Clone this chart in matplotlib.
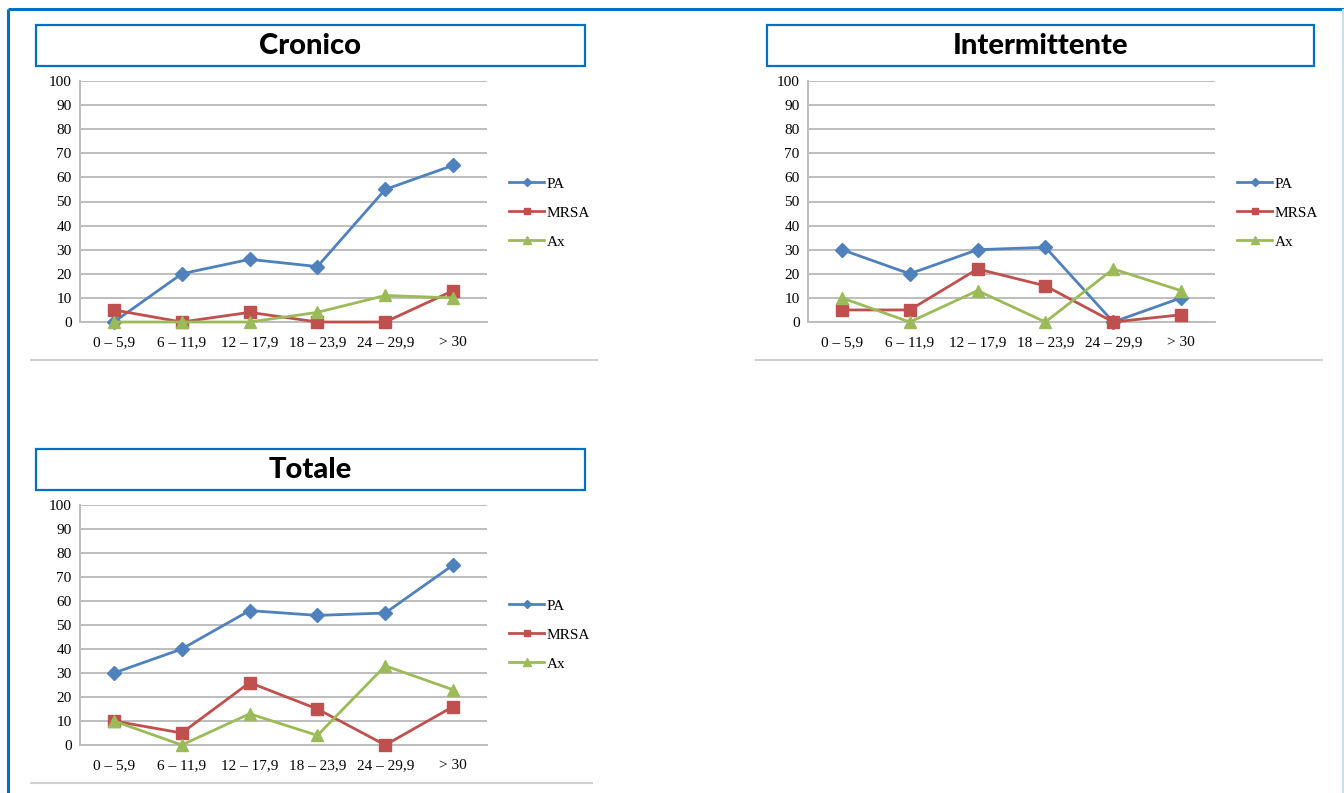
import matplotlib
matplotlib.use("Agg")
import matplotlib.pyplot as plt
from matplotlib.patches import Rectangle
from matplotlib.lines import Line2D

# Age classes (x axis) and percentage values for each group
categories = ["0 – 5,9", "6 – 11,9", "12 – 17,9", "18 – 23,9", "24 – 29,9", "> 30"]
series_names = ["PA", "MRSA", "Ax"]

cronico_pa = [0, 20, 26, 23, 55, 65]
cronico_mrsa = [5, 0, 4, 0, 0, 13]
cronico_ax = [0, 0, 0, 4, 11, 10]

intermittente_pa = [30, 20, 30, 31, 0, 10]
intermittente_mrsa = [5, 5, 22, 15, 0, 3]
intermittente_ax = [10, 0, 13, 0, 22, 13]

totale_pa = [30, 40, 56, 54, 55, 75]
totale_mrsa = [10, 5, 26, 15, 0, 16]
totale_ax = [10, 0, 13, 4, 33, 23]

y_ticks = list(range(0, 101, 10))

W, H = 1344, 793
fig = plt.figure(figsize=(W / 100, H / 100), dpi=100)
fig.patch.set_facecolor("white")

BLUE_BORDER = "#0070C0"
COLORS = ["#4F81BD", "#C0504D", "#9BBB59"]
MARKERS = ["D", "s", "^"]
MSIZES = [7, 8, 8.5]
SERIF = ["Liberation Serif", "DejaVu Serif"]
TITLE_FONT = ["Lato", "DejaVu Sans"]


def rect(x0, y0, x1, y1):
    """Pixel box (top-left origin) -> figure fraction rect."""
    return [x0 / W, 1 - y1 / H, (x1 - x0) / W, (y1 - y0) / H]


def fline(x0, y0, x1, y1, color, lw):
    fig.add_artist(Line2D([x0 / W, x1 / W], [1 - y0 / H, 1 - y1 / H],
                          transform=fig.transFigure, color=color, lw=lw,
                          solid_capstyle="butt"))


# Outer frame
fline(8, 9, 8, H, BLUE_BORDER, 2.2)
fline(8, 9, W, 9, BLUE_BORDER, 2.2)
fline(W - 1.5, 9, W - 1.5, H, "#C9DDF0", 1.5)


def panel(title, title_box, plot_box, legend_xy, sep, pa, mrsa, ax_vals):
    tx0, ty0, tx1, ty1 = title_box
    fig.add_artist(Rectangle((tx0 / W, 1 - ty1 / H), (tx1 - tx0) / W, (ty1 - ty0) / H,
                             transform=fig.transFigure, fill=False,
                             edgecolor=BLUE_BORDER, lw=1.6))
    fig.text((tx0 + tx1) / 2 / W, 1 - (ty0 + ty1) / 2 / H, title,
             ha="center", va="center", fontsize=21, fontweight="black",
             family=TITLE_FONT, color="black")

    ax = fig.add_axes(rect(*plot_box))
    x = list(range(len(categories)))
    handles = []
    for vals, c, m, ms, name in zip([pa, mrsa, ax_vals], COLORS, MARKERS,
                                    MSIZES, series_names):
        h, = ax.plot(x, vals, color=c, lw=2.0, marker=m, markersize=ms,
                     markeredgecolor=c, markerfacecolor=c, label=name,
                     clip_on=False, zorder=3)
        handles.append(h)
    ax.set_xlim(-0.5, len(categories) - 0.5)
    ax.set_ylim(0, 100)
    ax.set_yticks(y_ticks)
    ax.set_xticks(x)
    ax.set_xticklabels(categories, family=SERIF, fontsize=11)
    ax.set_yticklabels([str(v) for v in y_ticks], family=SERIF, fontsize=11)
    ax.tick_params(axis="both", length=0, pad=6)
    ax.tick_params(axis="x", pad=10)
    ax.yaxis.grid(True, color="#BDBDBD", lw=1.4)
    ax.set_axisbelow(True)
    for s in ["top", "right"]:
        ax.spines[s].set_visible(False)
    ax.spines["left"].set_color("#BDBDBD")
    ax.spines["left"].set_linewidth(1.4)
    ax.spines["bottom"].set_color("#BDBDBD")
    ax.spines["bottom"].set_linewidth(1.4)

    lx, ly = legend_xy
    fig.legend(handles=handles, loc="upper left",
               bbox_to_anchor=(lx / W, 1 - ly / H),
               frameon=False, prop={"family": SERIF, "size": 11},
               handlelength=2.3, handletextpad=0.15, labelspacing=1.0,
               markerscale=0.6, borderaxespad=0, borderpad=0)

    sx0, sx1, sy = sep
    fline(sx0, sy, sx1, sy, "#D0D0D0", 1.5)
    return ax


panel("Cronico", (36, 25, 585, 66), (80, 81, 487, 322), (509, 177),
      (30, 598, 360), cronico_pa, cronico_mrsa, cronico_ax)
panel("Intermittente", (767, 25, 1314, 66), (808, 81, 1215, 322), (1237, 177),
      (755, 1323, 360), intermittente_pa, intermittente_mrsa, intermittente_ax)
panel("Totale", (36, 449, 585, 490), (80, 505, 487, 745), (509, 599),
      (30, 593, 783), totale_pa, totale_mrsa, totale_ax)

fig.savefig("out.png", dpi=100, facecolor="white")
